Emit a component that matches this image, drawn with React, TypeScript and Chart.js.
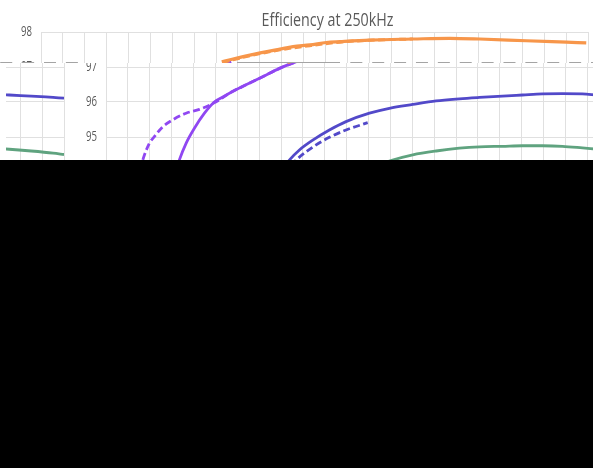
import React, { useEffect, useRef } from "react";
import { Chart, registerables } from "chart.js";

Chart.register(...registerables);

const TITLE = "Efficiency at 250kHz";
const Y_MIN = 88;
const Y_MAX = 98;
const Y_STEP = 1;
const X_MIN = 0;
const X_MAX = 25;
const X_STEP = 1;

// [load, efficiency %]
const orangeSolid: [number, number][] = [
  [8.26, 97.15], [9.55, 97.34], [10.92, 97.51], [11.52, 97.58], [12.29, 97.63],
  [13.04, 97.7], [13.67, 97.725], [15.02, 97.77], [17.0, 97.8], [18.68, 97.82],
  [20.05, 97.8], [22.18, 97.75], [24.01, 97.71], [24.92, 97.69],
];
const orangeDashed: [number, number][] = [
  [8.3, 97.13], [9.55, 97.32], [10.92, 97.49], [12.29, 97.61], [13.67, 97.71],
  [15.02, 97.765], [17.0, 97.8],
];
const purpleSolid: [number, number][] = [
  [2.5, 92.4], [3.0, 93.6], [3.35, 94.34], [3.66, 94.82], [4.04, 95.25], [4.5, 95.68],
  [4.95, 96.0], [5.3, 96.13], [5.64, 96.25], [6.4, 96.49], [7.16, 96.72], [7.93, 96.96],
  [8.69, 97.15],
];
const purpleDashed: [number, number][] = [
  [0.9, 92.0], [1.3, 93.4], [1.68, 94.34], [1.98, 94.82], [2.21, 95.01], [2.59, 95.29],
  [3.05, 95.49], [3.66, 95.68], [4.27, 95.79], [4.73, 95.91], [5.18, 96.06], [5.64, 96.25],
  [6.4, 96.49], [7.16, 96.72], [7.93, 96.96], [8.69, 97.15],
];
const blueSolid: [number, number][] = [
  [6.5, 92.6], [7.5, 93.6], [8.38, 94.34], [8.84, 94.63], [9.45, 94.91], [10.21, 95.2],
  [10.97, 95.44], [12.04, 95.68], [12.95, 95.82], [14.02, 95.93], [15.09, 96.03],
  [16.15, 96.09], [17.07, 96.13], [18.12, 96.17], [19.03, 96.2], [19.95, 96.23],
  [20.86, 96.24], [21.77, 96.23], [22.5, 96.2], [23.5, 96.17], [24.5, 96.13], [25, 96.11],
];
const blueDashed: [number, number][] = [
  [7.0, 93.0], [7.8, 93.7], [8.69, 94.34], [9.45, 94.71], [10.21, 94.99], [10.97, 95.2],
  [11.96, 95.41],
];
const greenSolid: [number, number][] = [
  [9.5, 93.4], [11.5, 94.0], [13.1, 94.34], [14.02, 94.49], [15.09, 94.6], [16.15, 94.68],
  [17.07, 94.72], [18.12, 94.735], [19.03, 94.75], [19.95, 94.75], [20.86, 94.735],
  [21.77, 94.69], [22.5, 94.65], [23.5, 94.6], [24.5, 94.54], [25, 94.5],
];

const ORANGE = "#F7964A";
const PURPLE = "#9047F2";
const BLUE = "#5249C9";
const GREEN = "#5FA37F";
const GRID = "#E0E0E0";
const TEXT = "#595959";
const FONT = '"Open Sans", sans-serif';
const TITLE_SIZE = 19;
const TICK_SIZE = 15;
const TITLE_WIDTH = 132; // rendered (condensed) title width
const TICK_PAIR_WIDTH = 11; // rendered width of a two-digit tick label

const pts = (a: [number, number][]) => a.map(([x, y]) => ({ x, y }));

const line = (label: string, data: [number, number][], color: string, dashed: boolean, width = 2.8) => ({
  label,
  data: pts(data),
  borderColor: color,
  backgroundColor: color,
  borderWidth: width,
  borderDash: dashed ? [7, 3.5] : [],
  pointRadius: 0,
  cubicInterpolationMode: "monotone" as const,
  fill: false,
  yAxisID: "y",
});

// condensed text, as in the reference (narrow face)
const condensePlugin = {
  id: "condense",
  beforeDraw(chart: any) {
    const ctx: CanvasRenderingContext2D = chart.ctx;
    const tb = chart.titleBlock;
    if (tb && !tb.__sq) {
      const orig = tb.draw;
      tb.draw = function (...args: any[]) {
        ctx.save();
        ctx.font = `${TITLE_SIZE}px ${FONT}`;
        const k = TITLE_WIDTH / ctx.measureText(TITLE).width;
        const cx = (tb.left + tb.right) / 2;
        ctx.translate(cx, 0);
        ctx.scale(k, 1);
        ctx.translate(-cx, 0);
        orig.apply(tb, args);
        ctx.restore();
      };
      tb.__sq = true;
    }
    const ys = chart.scales.y;
    if (ys && !ys.__sq) {
      const origL = ys.drawLabels;
      ys.drawLabels = function (...args: any[]) {
        ctx.save();
        ctx.font = `${TICK_SIZE}px ${FONT}`;
        const k = TICK_PAIR_WIDTH / ctx.measureText("96").width;
        const ax = ys.right - ys.options.ticks.padding;
        ctx.translate(ax, 0);
        ctx.scale(k, 1);
        ctx.translate(-ax, 0);
        origL.apply(ys, args);
        ctx.restore();
      };
      ys.__sq = true;
    }
  },
};

// Reproduces the displaced / blacked-out band of the reference image
const glitchPlugin = {
  id: "glitch",
  afterDraw(chart: any) {
    const ctx: CanvasRenderingContext2D = chart.ctx;
    const W = chart.canvas.width;
    const H = chart.canvas.height;
    const bandTop = 63;
    const bandBottom = 160;
    const shift = 65;
    const bh = bandBottom - bandTop;
    const band = ctx.getImageData(0, bandTop, W, bh);
    ctx.save();
    ctx.fillStyle = "#ffffff";
    ctx.fillRect(0, bandTop, W, bh);
    ctx.restore();
    ctx.putImageData(band, shift, bandTop);
    ctx.putImageData(band, 6 - 530, bandTop, 530, 0, 59, bh);

    ctx.save();
    const xs = chart.scales.x;
    const step = xs.getPixelForValue(1) - xs.getPixelForValue(0);
    const g0 = xs.getPixelForValue(0);
    ctx.fillStyle = "#A4A4A4";
    for (let k = -2; k <= 26; k++) {
      const a = g0 + k * step + 3;
      const b = a + 12;
      if (b <= 82 || a >= 340) ctx.fillRect(a, 62, b - a, 1);
    }
    ctx.fillRect(237, 62, 103, 1);
    ctx.fillStyle = "#000000";
    ctx.fillRect(0, bandBottom, W, H - bandBottom);
    ctx.restore();
  },
};

export default function App() {
  const ref = useRef<HTMLCanvasElement | null>(null);
  useEffect(() => {
    if (!ref.current) return;
    const chart = new Chart(ref.current, {
      type: "line",
      data: {
        datasets: [
          line("Orange", orangeSolid, ORANGE, false, 3.2),
          line("Orange (dashed)", orangeDashed, ORANGE, true, 3.0),
          line("Purple", purpleSolid, PURPLE, false),
          line("Purple (dashed)", purpleDashed, PURPLE, true),
          line("Blue", blueSolid, BLUE, false),
          line("Blue (dashed)", blueDashed, BLUE, true),
          line("Green", greenSolid, GREEN, false),
        ],
      },
      options: {
        responsive: false,
        animation: false,
        devicePixelRatio: 1,
        layout: { padding: { left: 0, right: 0, top: 0, bottom: 50 } },
        plugins: {
          legend: { display: false },
          tooltip: { enabled: false },
          title: {
            display: true,
            text: TITLE,
            color: TEXT,
            font: { family: FONT, size: TITLE_SIZE, weight: "normal", lineHeight: 1.2 },
            padding: { top: 9, bottom: 0.2 },
          },
        },
        scales: {
          x: {
            type: "linear",
            min: X_MIN,
            max: X_MAX,
            ticks: { display: false, stepSize: X_STEP, maxTicksLimit: 100 },
            grid: { color: GRID, drawTicks: false },
            border: { color: GRID },
            afterFit: (s: any) => { s.height = 36; },
          },
          y: {
            min: Y_MIN,
            max: Y_MAX,
            ticks: { stepSize: Y_STEP, color: TEXT, padding: 9, font: { family: FONT, size: TICK_SIZE } },
            grid: { color: GRID, drawTicks: false },
            border: { color: GRID },
            afterFit: (s: any) => { s.width = 41; },
          },
          yR: {
            position: "right",
            display: true,
            ticks: { display: false },
            grid: { display: false, drawTicks: false },
            border: { display: false },
            afterFit: (s: any) => { s.width = 67; },
          },
        },
      },
      plugins: [condensePlugin, glitchPlugin],
    } as any);
    return () => chart.destroy();
  }, []);

  return (
    <div style={{ position: "fixed", left: 0, top: 0, width: 593, height: 468, overflow: "hidden", background: "#fff" }}>
      <canvas ref={ref} width={655} height={468} style={{ display: "block" }} />
    </div>
  );
}
